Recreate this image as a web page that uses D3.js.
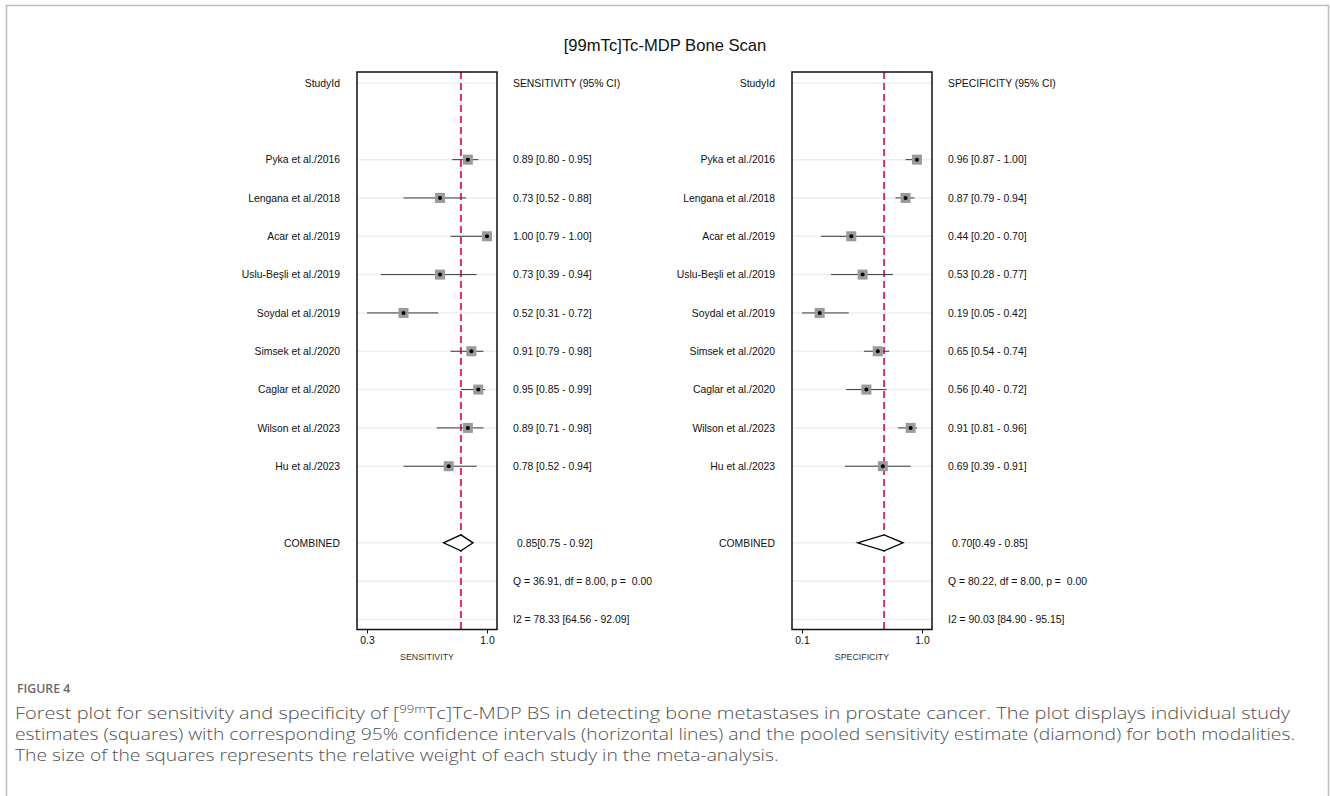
<!DOCTYPE html>
<html>
<head>
<meta charset="utf-8">
<script src="https://cdn.jsdelivr.net/npm/d3@7"></script>
<style>
  html, body { margin: 0; padding: 0; background: #fff; }
  svg text { white-space: pre; }
</style>
</head>
<body>
<svg id="chart"></svg>
<script>
// Study data
const studies = ["Pyka et al./2016", "Lengana et al./2018", "Acar et al./2019", "Uslu-Beşli et al./2019",
  "Soydal et al./2019", "Simsek et al./2020", "Caglar et al./2020", "Wilson et al./2023", "Hu et al./2023"];
const sens = [0.89, 0.73, 1.00, 0.73, 0.52, 0.91, 0.95, 0.89, 0.78];
const sensLo = [0.80, 0.52, 0.79, 0.39, 0.31, 0.79, 0.85, 0.71, 0.52];
const sensHi = [0.95, 0.88, 1.00, 0.94, 0.72, 0.98, 0.99, 0.98, 0.94];
const spec = [0.96, 0.87, 0.44, 0.53, 0.19, 0.65, 0.56, 0.91, 0.69];
const specLo = [0.87, 0.79, 0.20, 0.28, 0.05, 0.54, 0.40, 0.81, 0.39];
const specHi = [1.00, 0.94, 0.70, 0.77, 0.42, 0.74, 0.72, 0.96, 0.91];

// Pooled estimates [est, lo, hi]
const sensPooled = [0.85, 0.75, 0.92];
const specPooled = [0.70, 0.49, 0.85];

// Heterogeneity text
const sensStats = ["Q = 36.91, df = 8.00, p =  0.00", "I2 = 78.33 [64.56 - 92.09]"];
const specStats = ["Q = 80.22, df = 8.00, p =  0.00", "I2 = 90.03 [84.90 - 95.15]"];

// Axis ticks (axis runs from smallest lower CI to 1)
const sensTicks = [0.31, 1.0];
const sensTickLabels = ["0.3", "1.0"];
const specTicks = [0.05, 1.0];
const specTickLabels = ["0.1", "1.0"];

const captionLines = [
  "estimates (squares) with corresponding 95% confidence intervals (horizontal lines) and the pooled sensitivity estimate (diamond) for both modalities.",
  "The size of the squares represents the relative weight of each study in the meta-analysis."
];

const width = 1330, height = 796;
const font = "'Liberation Sans', Arial, sans-serif";
const fs = 10.4;
const svg = d3.select("#chart").attr("width", width).attr("height", height);

svg.append("rect").attr("width", width).attr("height", height).attr("fill", "#fff");

// Outer figure border (open at the bottom)
svg.append("path")
  .attr("d", `M6.5,${height + 2} V5.5 H1328.5 V${height + 2}`)
  .attr("fill", "none").attr("stroke", "#bdbdbd").attr("stroke-width", 1.5);

// Title
svg.append("text")
  .attr("x", 665).attr("y", 50.5)
  .attr("text-anchor", "middle")
  .attr("font-family", font).attr("font-size", 16.6).attr("fill", "#111")
  .text("[99mTc]Tc-MDP Bone Scan");

// Row positions: 0 header, 2..10 studies, 12 pooled, 13 Q, 14 I2
const y = d3.scaleLinear().domain([0, 14]).range([83, 619.5]);
const boxTop = 72, boxBottom = 629.5;

function drawPanel(opt) {
  const g = svg.append("g");
  const x = d3.scaleLinear().domain([opt.ticks[0], 1.0]).range([opt.boxLeft + 10, opt.boxLeft + 130]);
  const rowIdx = [0, ...studies.map((d, i) => i + 2), 12, 13, 14];

  // light row lines
  g.selectAll("line.grid").data(rowIdx).enter().append("line")
    .attr("class", "grid")
    .attr("x1", opt.boxLeft + 1).attr("x2", opt.boxLeft + 140)
    .attr("y1", d => y(d)).attr("y2", d => y(d))
    .attr("stroke", "#e9f0f2").attr("stroke-width", 1.5);

  // pooled estimate reference line
  g.append("line")
    .attr("x1", x(opt.pooled[0])).attr("x2", x(opt.pooled[0]))
    .attr("y1", boxTop).attr("y2", boxBottom)
    .attr("stroke", "#d8325f").attr("stroke-width", 2)
    .attr("stroke-dasharray", "7,4");

  // CI lines
  g.selectAll("line.ci").data(studies).enter().append("line")
    .attr("class", "ci")
    .attr("x1", (d, i) => x(opt.lo[i])).attr("x2", (d, i) => x(opt.hi[i]))
    .attr("y1", (d, i) => y(i + 2)).attr("y2", (d, i) => y(i + 2))
    .attr("stroke", "#3a3a3a").attr("stroke-width", 1);

  // squares + dots
  const sq = 10;
  g.selectAll("rect.sq").data(studies).enter().append("rect")
    .attr("class", "sq")
    .attr("x", (d, i) => x(opt.est[i]) - sq / 2).attr("y", (d, i) => y(i + 2) - sq / 2)
    .attr("width", sq).attr("height", sq)
    .attr("fill", "#9a9a9a");
  g.selectAll("circle.pt").data(studies).enter().append("circle")
    .attr("class", "pt")
    .attr("cx", (d, i) => x(opt.est[i])).attr("cy", (d, i) => y(i + 2))
    .attr("r", 2).attr("fill", "#000");

  // pooled diamond
  const py = y(12);
  g.append("path")
    .attr("d", `M${x(opt.pooled[1])},${py} L${x(opt.pooled[0])},${py - 8} L${x(opt.pooled[2])},${py} L${x(opt.pooled[0])},${py + 8} Z`)
    .attr("fill", "#fff").attr("stroke", "#000").attr("stroke-width", 1.3);

  // box
  g.append("rect")
    .attr("x", opt.boxLeft).attr("y", boxTop)
    .attr("width", 140).attr("height", boxBottom - boxTop)
    .attr("fill", "none").attr("stroke", "#111").attr("stroke-width", 1.5);

  // axis
  const axis = d3.axisBottom(x).tickValues(opt.ticks)
    .tickFormat((d, i) => opt.tickLabels[i]).tickSize(4).tickPadding(3);
  const ax = g.append("g").attr("transform", `translate(0,${boxBottom})`).call(axis);
  ax.select(".domain").remove();
  ax.selectAll("line").attr("stroke", "#111");
  ax.selectAll("text").attr("font-family", font).attr("font-size", fs).attr("fill", "#111");

  g.append("text")
    .attr("x", opt.boxLeft + 70).attr("y", 659.5)
    .attr("text-anchor", "middle")
    .attr("font-family", font).attr("font-size", 8.8).attr("fill", "#333")
    .text(opt.label);

  // left labels
  const labels = ["StudyId", ...studies, "COMBINED"];
  const labelRows = [0, ...studies.map((d, i) => i + 2), 12];
  g.selectAll("text.name").data(labels).enter().append("text")
    .attr("class", "name")
    .attr("x", opt.boxLeft - 17).attr("y", (d, i) => y(labelRows[i]) + 3.7)
    .attr("text-anchor", "end")
    .attr("font-family", font).attr("font-size", fs).attr("fill", "#111")
    .text(d => d);

  // right values
  const f = d3.format(".2f");
  const values = [opt.label + " (95% CI)",
    ...studies.map((d, i) => `${f(opt.est[i])} [${f(opt.lo[i])} - ${f(opt.hi[i])}]`)];
  g.selectAll("text.val").data(values).enter().append("text")
    .attr("class", "val")
    .attr("x", opt.boxLeft + 156).attr("y", (d, i) => y(labelRows[i]) + 3.7)
    .attr("font-family", font).attr("font-size", fs).attr("fill", "#111")
    .text(d => d);

  g.append("text")
    .attr("x", opt.boxLeft + 160).attr("y", y(12) + 3.7)
    .attr("font-family", font).attr("font-size", fs).attr("fill", "#111")
    .text(`${f(opt.pooled[0])}[${f(opt.pooled[1])} - ${f(opt.pooled[2])}]`);

  g.selectAll("text.stat").data(opt.stats).enter().append("text")
    .attr("class", "stat")
    .attr("x", opt.boxLeft + 156).attr("y", (d, i) => y(13 + i) + 3.7)
    .attr("font-family", font).attr("font-size", fs).attr("fill", "#111")
    .text(d => d);
}

drawPanel({ boxLeft: 357, est: sens, lo: sensLo, hi: sensHi, pooled: sensPooled,
  stats: sensStats, ticks: sensTicks, tickLabels: sensTickLabels, label: "SENSITIVITY" });
drawPanel({ boxLeft: 792, est: spec, lo: specLo, hi: specHi, pooled: specPooled,
  stats: specStats, ticks: specTicks, tickLabels: specTickLabels, label: "SPECIFICITY" });

// Caption
const capFont = "'Open Sans', 'Noto Sans', sans-serif";
const capX = 15, capSize = 16;
svg.append("text")
  .attr("x", capX + 2).attr("y", 693)
  .attr("font-family", capFont).attr("font-size", 12.3).attr("font-weight", 600).attr("fill", "#6a6a6a")
  .text("FIGURE 4");

const l1 = svg.append("text")
  .attr("x", capX).attr("y", 719)
  .attr("font-family", capFont).attr("font-size", capSize).attr("font-weight", 300).attr("fill", "#505050");
l1.append("tspan").text("Forest plot for sensitivity and specificity of [");
l1.append("tspan").attr("dy", -6.5).attr("font-size", 10.5).text("99m");
l1.append("tspan").attr("dy", 6.5).text("Tc]Tc-MDP BS in detecting bone metastases in prostate cancer. The plot displays individual study");
l1.attr("textLength", 1290 - capX).attr("lengthAdjust", "spacingAndGlyphs");

const capRest = svg.selectAll("text.cap").data(captionLines).enter().append("text")
  .attr("class", "cap")
  .attr("x", capX).attr("y", (d, i) => 739.8 + i * 20.8)
  .attr("font-family", capFont).attr("font-size", capSize).attr("font-weight", 300).attr("fill", "#505050")
  .text(d => d);

// stretch the wrapped lines to the measured widths, same ratio for the last line
const nodes = capRest.nodes();
const ratio = (1295 - capX) / nodes[0].getComputedTextLength();
nodes.forEach(n => {
  d3.select(n).attr("textLength", n.getComputedTextLength() * ratio)
    .attr("lengthAdjust", "spacingAndGlyphs");
});
</script>
</body>
</html>
